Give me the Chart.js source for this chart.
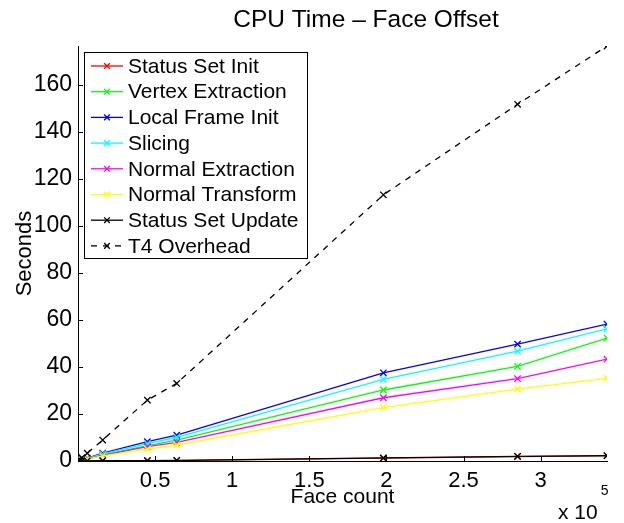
<!DOCTYPE html>
<html><head><meta charset="utf-8">
<script src="https://cdn.jsdelivr.net/npm/chart.js@4/dist/chart.umd.min.js"></script>
<style>html,body{margin:0;padding:0;background:#fff}canvas{display:block}</style>
</head><body>
<canvas id="c" width="624" height="523"></canvas>
<script>
// ---- data ----
const faceCount         = [250, 1000, 2500, 6000, 16000, 45000, 64000, 198000, 285000, 343000];
const statusSetInit     = [0.00, 0.01, 0.01, 0.02, 0.05, 0.15, 0.20, 1.20, 1.90, 2.20];
const vertexExtraction  = [0.05, 0.15, 0.40, 0.90, 2.60, 6.50, 8.90, 30.2, 40.2, 52.3];
const localFrameInit    = [0.06, 0.20, 0.50, 1.20, 3.30, 8.20, 11.0, 37.5, 49.7, 58.2];
const slicing           = [0.06, 0.20, 0.50, 1.10, 3.00, 7.40, 10.1, 34.7, 46.7, 56.2];
const normalExtraction  = [0.04, 0.15, 0.40, 0.90, 2.40, 6.10, 7.90, 26.9, 35.0, 43.3];
const normalTransform   = [0.04, 0.12, 0.30, 0.80, 2.20, 5.10, 6.80, 22.7, 30.6, 35.1];
const statusSetUpdate   = [0.01, 0.02, 0.04, 0.08, 0.10, 0.20, 0.30, 1.30, 2.00, 2.30];
const t4Overhead        = [0.10, 0.50, 1.40, 3.30, 8.90, 25.9, 33.0, 113.2, 151.7, 176.5];

const seriesNames  = ['Status Set Init','Vertex Extraction','Local Frame Init','Slicing',
                      'Normal Extraction','Normal Transform','Status Set Update','T4 Overhead'];
const seriesValues = [statusSetInit, vertexExtraction, localFrameInit, slicing,
                      normalExtraction, normalTransform, statusSetUpdate, t4Overhead];
const seriesColors = ['#ff0000','#00ff00','#0000ff','#00ffff','#ff00ff','#ffff00','#000000','#000000'];
const seriesDashed = [false,false,false,false,false,false,false,true];

const yTickValues = [0, 20, 40, 60, 80, 100, 120, 140, 160];
const xTickValues = [50000, 100000, 150000, 200000, 250000, 300000];
const xMax = 343000, yMax = 176.5;

const titleText = 'CPU Time \u2013 Face Offset';
const xTitle = 'Face count', yTitle = 'Seconds';

// ---- chart ----
const FONT = '"Liberation Sans", Arial, Helvetica, sans-serif';
Chart.defaults.font.family = FONT;
Chart.defaults.color = '#000';

const n = seriesNames.length;
const datasets = seriesNames.map((name, i) => ({
  label: name,
  data: faceCount.map((x, k) => ({x, y: seriesValues[i][k]})),
  borderColor: seriesColors[i],
  backgroundColor: seriesColors[i],
  borderWidth: 1.3,
  borderDash: seriesDashed[i] ? [6, 6] : [],
  pointStyle: 'crossRot',
  pointRadius: 4.5,
  pointBorderWidth: 1.3,
  tension: 0,
  fill: false,
  order: n - i
}));

const deco = {
  id: 'deco',
  afterDraw(chart) {
    const {ctx, chartArea: a, scales: {x, y}} = chart;
    ctx.save();
    ctx.strokeStyle = '#000'; ctx.lineWidth = 1;
    x.ticks.forEach(t => {
      const px = Math.round(x.getPixelForValue(t.value)) + 0.5;
      ctx.beginPath(); ctx.moveTo(px, a.bottom); ctx.lineTo(px, a.bottom - 5); ctx.stroke();
    });
    y.ticks.forEach(t => {
      const py = Math.round(y.getPixelForValue(t.value)) + 0.5;
      ctx.beginPath(); ctx.moveTo(a.left, py); ctx.lineTo(a.left + 5, py); ctx.stroke();
    });
    // title
    ctx.fillStyle = '#000';
    ctx.font = '24.5px ' + FONT;
    ctx.textAlign = 'center'; ctx.textBaseline = 'middle';
    ctx.fillText(titleText, 366, 20);
    // exponent
    ctx.textAlign = 'left';
    ctx.font = '21px ' + FONT;
    ctx.fillText('x 10', 558, 513);
    const w = ctx.measureText('x 10').width;
    ctx.font = '14px ' + FONT;
    ctx.fillText('5', 558 + w + 3, 491);
    // legend
    const lx = 84.5, ly = 52.5, lw = 223, lh = 206;
    ctx.fillStyle = '#fff';
    ctx.fillRect(lx, ly, lw, lh);
    ctx.strokeStyle = '#000'; ctx.lineWidth = 1;
    ctx.strokeRect(lx, ly, lw, lh);
    ctx.font = '21px ' + FONT;
    ctx.textBaseline = 'middle';
    chart.data.datasets.forEach((ds, i) => {
      const cy = 66 + i * 25.7;
      ctx.strokeStyle = ds.borderColor; ctx.lineWidth = 1.3;
      ctx.setLineDash(ds.borderDash);
      ctx.beginPath(); ctx.moveTo(91, cy); ctx.lineTo(123, cy); ctx.stroke();
      ctx.setLineDash([]);
      Chart.helpers.drawPoint(ctx, {pointStyle: 'crossRot', radius: 4, borderWidth: 1.3}, 107, cy);
      ctx.fillStyle = '#000';
      ctx.fillText(ds.label, 128, cy + 1);
    });
    ctx.restore();
  }
};

new Chart(document.getElementById('c'), {
  type: 'line',
  data: {datasets},
  options: {
    responsive: false,
    animation: false,
    devicePixelRatio: 1,
    layout: {padding: {top: 46, right: 17, bottom: 0, left: 0}},
    plugins: {legend: {display: false}, title: {display: false}, tooltip: {enabled: false}},
    scales: {
      x: {
        type: 'linear', min: 0, max: xMax,
        afterFit(s) { s.height = 62; },
        afterBuildTicks(s) { s.ticks = xTickValues.map(v => ({value: v})); },
        ticks: {font: {size: 22}, padding: 7, maxRotation: 0, callback: v => String(v / 1e5)},
        grid: {display: false, drawTicks: false},
        border: {display: true, color: '#000', width: 1},
        title: {display: true, text: xTitle, font: {size: 21}, padding: {top: 0, bottom: 13}}
      },
      y: {
        type: 'linear', min: 0, max: yMax,
        afterFit(s) { s.width = 78; },
        afterBuildTicks(s) { s.ticks = yTickValues.map(v => ({value: v})); },
        ticks: {font: {size: 23}, padding: 6},
        grid: {display: false, drawTicks: false},
        border: {display: true, color: '#000', width: 1},
        title: {display: true, text: yTitle, font: {size: 22}, padding: {top: 12, bottom: 0}}
      }
    }
  },
  plugins: [deco]
});
</script>
</body></html>
